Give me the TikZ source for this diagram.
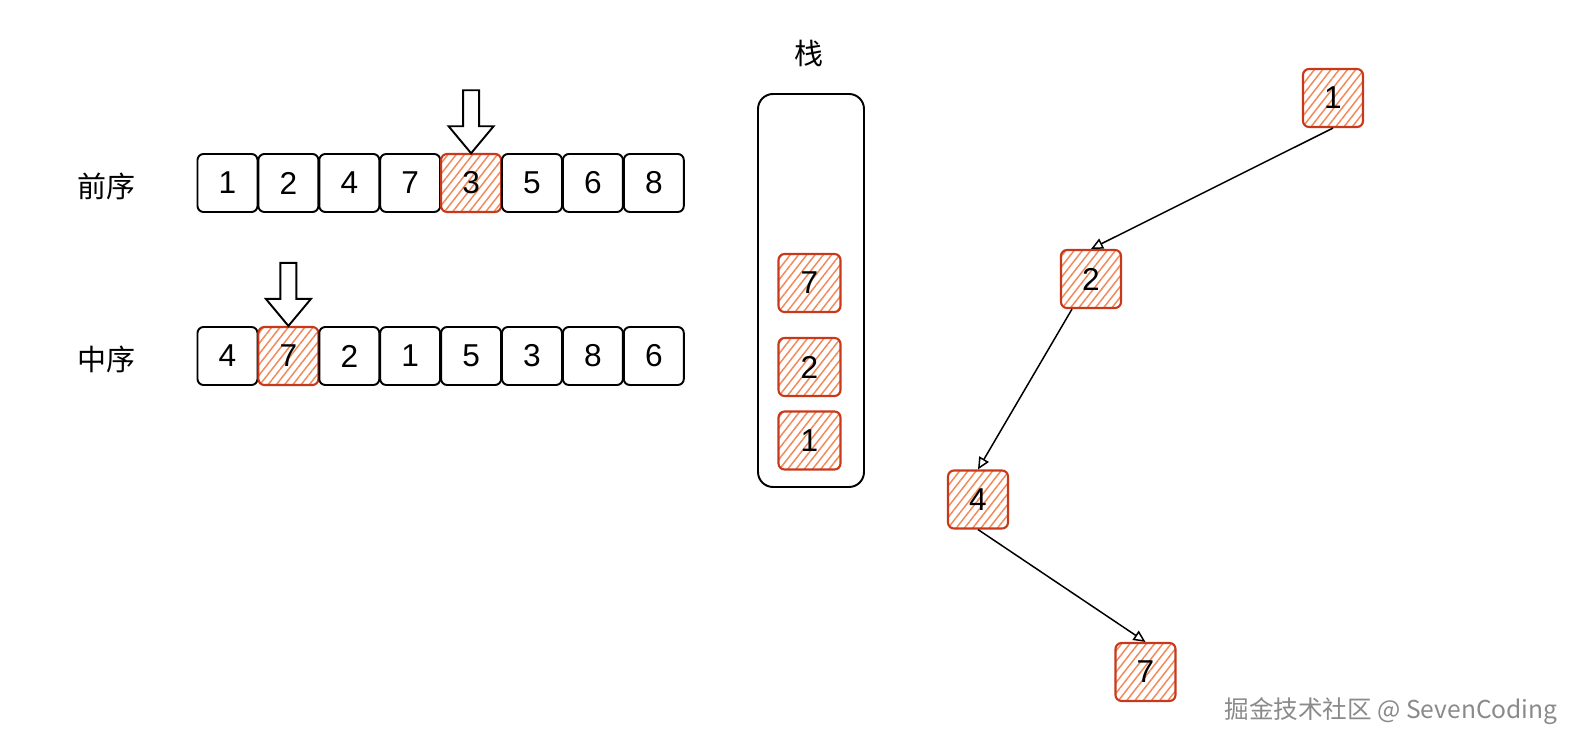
\documentclass[tikz,border=0pt]{standalone}
\usepackage{fontspec}
\setmainfont{Liberation Sans}
\newfontfamily\cjk{Noto Sans CJK SC}
\usepackage{tikz}
\usetikzlibrary{arrows.meta,calc,positioning,patterns.meta}
\definecolor{hatchred}{HTML}{C8391B}
\definecolor{hatchfill}{HTML}{F2895A}
\definecolor{markgray}{HTML}{8A8A8A}

\begin{document}
\begin{tikzpicture}[
  cell/.style={draw,line width=1.1pt,rounded corners=0.12cm,minimum width=1.2cm,minimum height=1.16cm,inner sep=0pt,font=\fontsize{18}{20}\selectfont},
  hot/.style={cell,draw=hatchred,line width=1.2pt,pattern={Lines[angle=52,distance=0.13cm,line width=0.85pt]},pattern color=hatchfill},
  lbl/.style={font=\cjk\fontsize{16.5}{18}\selectfont},
  link/.style={line width=0.85pt,-{Triangle[open,length=0.24cm,width=0.22cm]}},
  pics/downarr/.style={code={
    \draw[line width=1.1pt,fill=white] (0,0) -- (-0.45,0.54) -- (-0.16,0.54) -- (-0.16,1.26) -- (0.16,1.26) -- (0.16,0.54) -- (0.45,0.54) -- cycle;}}
]
  \useasboundingbox (0,0) rectangle (31.7,14.98);

  % preorder and inorder rows
  \node[lbl] (pre) at (2.12,11.26) {前序};
  \foreach \v/\s [count=\i] in {1/cell,2/cell,4/cell,7/cell,3/hot,5/cell,6/cell,8/cell}
    \node[\s] (p\i) at ({4.55+(\i-1)*1.218},11.32) {\v};
  \node[lbl] (in) at (2.12,7.8) {中序};
  \foreach \v/\s [count=\i] in {4/cell,7/hot,2/cell,1/cell,5/cell,3/cell,8/cell,6/cell}
    \node[\s] (q\i) at ({4.55+(\i-1)*1.218},7.86) {\v};
  \pic at (p5.north) {downarr};
  \pic at (q2.north) {downarr};

  % stack
  \node[lbl] (stacktitle) at (16.18,13.92) {栈};
  \node[draw,line width=1.1pt,rounded corners=0.3cm,minimum width=2.12cm,minimum height=7.86cm] (stack) at (16.22,9.17) {};
  \node[hot,minimum width=1.24cm] (s7) at (16.19,9.32) {7};
  \node[hot,minimum width=1.24cm] (s2) at (16.19,7.64) {2};
  \node[hot,minimum width=1.24cm] (s1) at (16.19,6.17) {1};

  % tree
  \node[hot] (t1) at (26.66,13.02) {1};
  \node[hot] (t2) at (21.82,9.4) {2};
  \node[hot] (t4) at (19.56,4.99) {4};
  \node[hot] (t7) at (22.91,1.54) {7};
  \draw[link] (t1.south) -- (t2.north);
  \draw[link] ([xshift=-0.38cm]t2.south) -- (t4.north);
  \draw[link] (t4.south) -- (t7.north);

  \node[font=\cjk\fontsize{14}{16}\selectfont,text=markgray] (mark) at (27.82,0.76) {掘金技术社区 @ SevenCoding};
\end{tikzpicture}
\end{document}
